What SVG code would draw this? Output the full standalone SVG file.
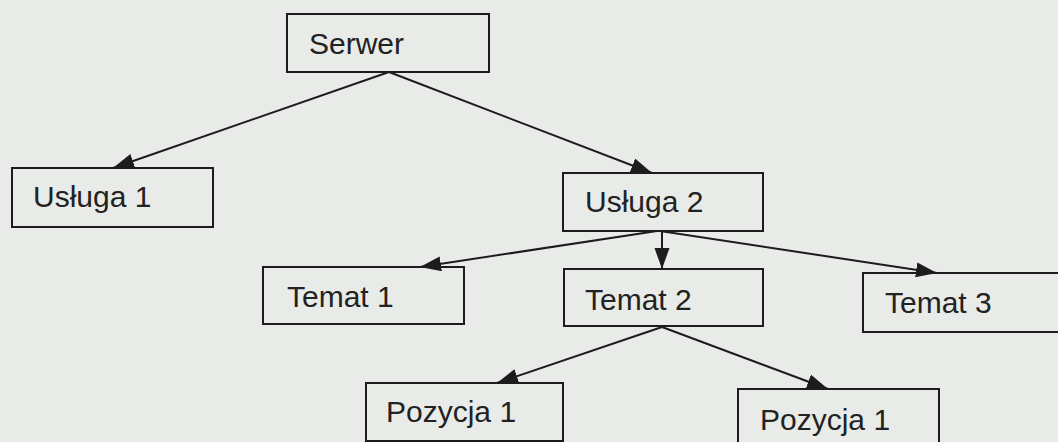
<svg xmlns="http://www.w3.org/2000/svg" width="1058" height="442" viewBox="0 0 1058 442">
  <defs>
    <style>
      .box { fill: none; stroke: #1c1c1c; stroke-width: 2; }
      .label { font-family: "Liberation Sans", Arial, sans-serif; font-size: 30px; fill: #222; }
      .link { stroke: #1c1c1c; stroke-width: 2; fill: none; marker-end: url(#arrow); }
    </style>
    <marker id="arrow" markerUnits="userSpaceOnUse" markerWidth="22" markerHeight="16" refX="21" refY="7.5" orient="auto">
      <path d="M0,0 L21,7.5 L0,15 z" fill="#1c1c1c"/>
    </marker>
  </defs>

  <rect width="1058" height="442" fill="#e8ebe8"/>

  <g id="connectors">
    <line class="link" x1="389" y1="72" x2="113" y2="168"/>
    <line class="link" x1="389" y1="72" x2="652" y2="173"/>
    <line class="link" x1="657" y1="231" x2="420" y2="267"/>
    <line class="link" x1="662" y1="231" x2="662" y2="269"/>
    <line class="link" x1="660" y1="231" x2="937" y2="273"/>
    <line class="link" x1="662" y1="327" x2="497" y2="383"/>
    <line class="link" x1="662" y1="327" x2="828" y2="389"/>
  </g>

  <g id="serwer">
    <rect class="box" x="287" y="14" width="202" height="58"/>
    <text class="label" x="309" y="54">Serwer</text>
  </g>
  <g id="usluga1">
    <rect class="box" x="12" y="168" width="201" height="59"/>
    <text class="label" x="33" y="207">Usługa 1</text>
  </g>
  <g id="usluga2">
    <rect class="box" x="563" y="173" width="200" height="58"/>
    <text class="label" x="585" y="212">Usługa 2</text>
  </g>
  <g id="temat1">
    <rect class="box" x="263" y="267" width="201" height="57"/>
    <text class="label" x="287" y="307">Temat 1</text>
  </g>
  <g id="temat2">
    <rect class="box" x="564" y="269" width="199" height="57"/>
    <text class="label" x="585" y="310">Temat 2</text>
  </g>
  <g id="temat3">
    <rect class="box" x="863" y="273" width="200" height="59"/>
    <text class="label" x="885" y="313">Temat 3</text>
  </g>
  <g id="pozycja1a">
    <rect class="box" x="366" y="383" width="197" height="58"/>
    <text class="label" x="386" y="422">Pozycja 1</text>
  </g>
  <g id="pozycja1b">
    <rect class="box" x="738" y="389" width="201" height="60"/>
    <text class="label" x="760" y="430">Pozycja 1</text>
  </g>
</svg>
